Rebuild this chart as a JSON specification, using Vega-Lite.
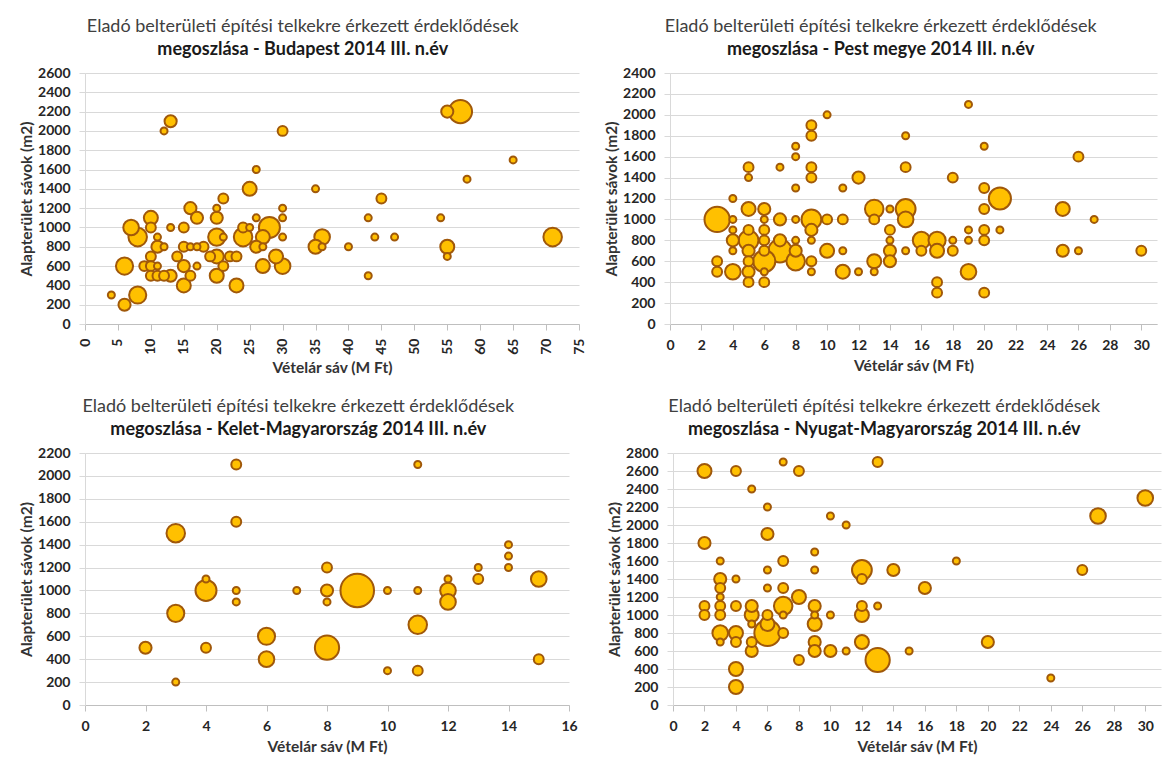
{
  "$schema": "https://vega.github.io/schema/vega-lite/v6.json",
  "background": "white",
  "padding": {"left": 19, "top": 18, "right": 2, "bottom": 2},
  "config": {
    "font": "Lato",
    "view": {"stroke": null},
    "axis": {
      "labelFont": "Lato", "labelFontWeight": "bold", "labelFontSize": 14, "labelColor": "#262626",
      "titleFont": "Lato", "titleFontWeight": "bold", "titleFontSize": 15.5, "titleColor": "#333333",
      "gridColor": "#D9D9D9", "domainColor": "#BFBFBF", "tickColor": "#BFBFBF",
      "tickSize": 6, "labelOverlap": false, "labelFlush": false, "format": "d"
    },
    "axisX": {"grid": false, "labelPadding": 8, "titlePadding": 6},
    "axisY": {"grid": true, "domainColor": "#D9D9D9", "tickColor": "#D9D9D9", "labelPadding": 9, "titlePadding": 3},
    "style": {"rotx": {"labelAngle": 270, "labelAlign": "right", "labelBaseline": "middle"}},
    "title": {"font": "Lato", "fontSize": 18, "fontWeight": "normal", "color": "#404040", "anchor": "middle", "frame": "bounds", "offset": 7,
              "subtitleFont": "Lato", "subtitleFontSize": 18, "subtitleFontWeight": "bold", "subtitleColor": "#1a1a1a", "subtitlePadding": 5},
    "circle": {"fill": "#FFC000", "stroke": "#A0580A", "strokeWidth": 2, "opacity": 1, "fillOpacity": 1}
  },
  "spacing": 22,
  "vconcat": [
    {
      "spacing": 18,
      "hconcat": [
        {
          "title": {"text": "Eladó belterületi építési telkekre érkezett érdeklődések", "subtitle": "megoszlása - Budapest 2014 III. n.év"},
          "width": 494, "height": 251,
          "data": {"values": [
            {"x":4,"y":300,"n":1},{"x":6,"y":200,"n":3},{"x":6,"y":600,"n":6},{"x":8,"y":300,"n":6},
            {"x":7,"y":1000,"n":5},{"x":8,"y":900,"n":7},{"x":9,"y":600,"n":2},{"x":10,"y":1100,"n":4},
            {"x":10,"y":1000,"n":2},{"x":10,"y":700,"n":2},{"x":10,"y":600,"n":2},{"x":10,"y":500,"n":2},
            {"x":11,"y":900,"n":1},{"x":11,"y":800,"n":3},{"x":11,"y":600,"n":1},{"x":11,"y":500,"n":2},
            {"x":12,"y":800,"n":1},{"x":12,"y":500,"n":2},{"x":12,"y":2000,"n":1},{"x":13,"y":2100,"n":3},
            {"x":13,"y":1000,"n":1},{"x":13,"y":500,"n":3},{"x":15,"y":1000,"n":2},{"x":15,"y":800,"n":2},
            {"x":15,"y":600,"n":3},{"x":15,"y":400,"n":4},{"x":14,"y":700,"n":2},{"x":16,"y":1200,"n":3},
            {"x":16,"y":500,"n":2},{"x":16,"y":800,"n":1},{"x":17,"y":1100,"n":3},{"x":17,"y":800,"n":1},
            {"x":17,"y":600,"n":1},{"x":18,"y":800,"n":2},{"x":19,"y":700,"n":2},{"x":20,"y":1200,"n":1},
            {"x":20,"y":1100,"n":3},{"x":20,"y":900,"n":6},{"x":20,"y":700,"n":4},{"x":20,"y":500,"n":4},
            {"x":21,"y":900,"n":1},{"x":21,"y":1300,"n":2},{"x":21,"y":600,"n":2},{"x":22,"y":700,"n":2},
            {"x":23,"y":700,"n":2},{"x":23,"y":400,"n":4},{"x":24,"y":1000,"n":2},{"x":24,"y":900,"n":7},
            {"x":25,"y":1400,"n":4},{"x":25,"y":1000,"n":1},{"x":26,"y":1600,"n":1},{"x":26,"y":1100,"n":1},
            {"x":26,"y":800,"n":3},{"x":27,"y":800,"n":1},{"x":27,"y":900,"n":4},{"x":27,"y":600,"n":4},
            {"x":28,"y":1000,"n":9},{"x":29,"y":700,"n":4},{"x":30,"y":2000,"n":2},{"x":30,"y":1200,"n":1},
            {"x":30,"y":1100,"n":1},{"x":30,"y":900,"n":1},{"x":30,"y":600,"n":5},{"x":35,"y":1400,"n":1},
            {"x":35,"y":800,"n":4},{"x":36,"y":900,"n":5},{"x":36,"y":800,"n":1},{"x":40,"y":800,"n":1},
            {"x":43,"y":1100,"n":1},{"x":43,"y":500,"n":1},{"x":44,"y":900,"n":1},{"x":45,"y":1300,"n":2},
            {"x":47,"y":900,"n":1},{"x":54,"y":1100,"n":1},{"x":55,"y":2200,"n":3},{"x":57,"y":2200,"n":11},
            {"x":55,"y":800,"n":4},{"x":55,"y":700,"n":1},{"x":58,"y":1500,"n":1},{"x":65,"y":1700,"n":1},
            {"x":71,"y":900,"n":7}
          ]},
          "mark": {"type": "circle"},
          "encoding": {
            "x": {"field": "x", "type": "quantitative", "scale": {"domain": [0, 75], "nice": false},
                  "axis": {"style": "rotx", "labelAngle": -90, "labelAlign": "right", "labelBaseline": "middle", "values": [0,5,10,15,20,25,30,35,40,45,50,55,60,65,70,75], "title": "Vételár sáv (M Ft)"}},
            "y": {"field": "y", "type": "quantitative", "scale": {"domain": [0, 2600], "nice": false},
                  "axis": {"values": [0,200,400,600,800,1000,1200,1400,1600,1800,2000,2200,2400,2600], "title": "Alapterület sávok (m2)"}},
            "size": {"field": "n", "type": "quantitative", "scale": {"type": "linear", "domain": [0, 24], "range": [0, 1176]}, "legend": null},
            "order": {"field": "n", "sort": "descending"}
          }
        },
        {
          "title": {"text": "Eladó belterületi építési telkekre érkezett érdeklődések", "subtitle": "megoszlása - Pest megye 2014 III. n.év"},
          "width": 487, "height": 251,
          "data": {"values": [
            {"x":3,"y":1000,"n":13},{"x":3,"y":600,"n":2},{"x":3,"y":500,"n":2},{"x":4,"y":1200,"n":1},
            {"x":4,"y":1000,"n":1},{"x":4,"y":900,"n":1},{"x":4,"y":800,"n":3},{"x":4,"y":700,"n":1},
            {"x":4,"y":500,"n":5},{"x":5,"y":1500,"n":2},{"x":5,"y":1400,"n":1},{"x":5,"y":1100,"n":4},
            {"x":5,"y":900,"n":2},{"x":5,"y":800,"n":8},{"x":5,"y":700,"n":3},{"x":5,"y":600,"n":2},
            {"x":5,"y":500,"n":3},{"x":5,"y":400,"n":2},{"x":6,"y":1100,"n":3},{"x":6,"y":1000,"n":1},
            {"x":6,"y":900,"n":2},{"x":6,"y":800,"n":2},{"x":6,"y":700,"n":2},{"x":6,"y":600,"n":10},
            {"x":6,"y":500,"n":1},{"x":6,"y":400,"n":2},{"x":7,"y":1500,"n":1},{"x":7,"y":1000,"n":3},
            {"x":7,"y":800,"n":3},{"x":7,"y":700,"n":11},{"x":8,"y":1700,"n":1},{"x":8,"y":1600,"n":1},
            {"x":8,"y":1300,"n":1},{"x":8,"y":1000,"n":1},{"x":8,"y":800,"n":1},{"x":8,"y":700,"n":3},
            {"x":8,"y":600,"n":7},{"x":9,"y":1900,"n":2},{"x":9,"y":1800,"n":2},{"x":9,"y":1500,"n":2},
            {"x":9,"y":1400,"n":2},{"x":9,"y":1000,"n":8},{"x":9,"y":900,"n":3},{"x":9,"y":800,"n":1},
            {"x":9,"y":600,"n":2},{"x":9,"y":500,"n":1},{"x":10,"y":2000,"n":1},{"x":10,"y":1000,"n":2},
            {"x":10,"y":700,"n":4},{"x":11,"y":1300,"n":1},{"x":11,"y":1000,"n":2},{"x":11,"y":700,"n":1},
            {"x":11,"y":500,"n":4},{"x":12,"y":1400,"n":3},{"x":12,"y":500,"n":1},{"x":13,"y":1100,"n":7},
            {"x":13,"y":1000,"n":2},{"x":13,"y":600,"n":4},{"x":13,"y":500,"n":1},{"x":14,"y":1100,"n":1},
            {"x":14,"y":900,"n":2},{"x":14,"y":800,"n":1},{"x":14,"y":700,"n":3},{"x":14,"y":600,"n":3},
            {"x":15,"y":1800,"n":1},{"x":15,"y":1500,"n":2},{"x":15,"y":1100,"n":8},{"x":15,"y":1000,"n":5},
            {"x":15,"y":700,"n":1},{"x":16,"y":800,"n":6},{"x":16,"y":700,"n":2},{"x":17,"y":800,"n":6},
            {"x":17,"y":700,"n":4},{"x":17,"y":400,"n":2},{"x":17,"y":300,"n":2},{"x":18,"y":1400,"n":2},
            {"x":18,"y":800,"n":1},{"x":18,"y":700,"n":2},{"x":19,"y":2100,"n":1},{"x":19,"y":900,"n":1},
            {"x":19,"y":800,"n":1},{"x":19,"y":500,"n":5},{"x":20,"y":1700,"n":1},{"x":20,"y":1300,"n":2},
            {"x":20,"y":1100,"n":2},{"x":20,"y":900,"n":2},{"x":20,"y":800,"n":2},{"x":20,"y":300,"n":2},
            {"x":21,"y":1200,"n":10},{"x":21,"y":900,"n":1},{"x":25,"y":1100,"n":4},{"x":25,"y":700,"n":3},
            {"x":26,"y":1600,"n":2},{"x":26,"y":700,"n":1},{"x":27,"y":1000,"n":1},{"x":30,"y":700,"n":2}
          ]},
          "mark": {"type": "circle"},
          "encoding": {
            "x": {"field": "x", "type": "quantitative", "scale": {"domain": [0, 31], "nice": false},
                  "axis": {"values": [0,2,4,6,8,10,12,14,16,18,20,22,24,26,28,30], "title": "Vételár sáv (M Ft)"}},
            "y": {"field": "y", "type": "quantitative", "scale": {"domain": [0, 2400], "nice": false},
                  "axis": {"values": [0,200,400,600,800,1000,1200,1400,1600,1800,2000,2200,2400], "title": "Alapterület sávok (m2)"}},
            "size": {"field": "n", "type": "quantitative", "scale": {"type": "linear", "domain": [0, 24], "range": [0, 1176]}, "legend": null},
            "order": {"field": "n", "sort": "descending"}
          }
        }
      ]
    },
    {
      "spacing": 29,
      "hconcat": [
        {
          "title": {"text": "Eladó belterületi építési telkekre érkezett érdeklődések", "subtitle": "megoszlása - Kelet-Magyarország 2014 III. n.év"},
          "width": 484, "height": 252,
          "data": {"values": [
            {"x":2,"y":500,"n":3},{"x":3,"y":1500,"n":7},{"x":3,"y":800,"n":6},{"x":3,"y":200,"n":1},
            {"x":4,"y":1100,"n":1},{"x":4,"y":1000,"n":9},{"x":4,"y":500,"n":2},{"x":5,"y":2100,"n":2},
            {"x":5,"y":1600,"n":2},{"x":5,"y":1000,"n":1},{"x":5,"y":900,"n":1},{"x":6,"y":600,"n":6},
            {"x":6,"y":400,"n":5},{"x":7,"y":1000,"n":1},{"x":8,"y":1200,"n":2},{"x":8,"y":1000,"n":3},
            {"x":8,"y":900,"n":1},{"x":8,"y":500,"n":12},{"x":9,"y":1000,"n":23},{"x":10,"y":1000,"n":1},
            {"x":10,"y":300,"n":1},{"x":11,"y":2100,"n":1},{"x":11,"y":1000,"n":1},{"x":11,"y":700,"n":7},
            {"x":11,"y":300,"n":2},{"x":12,"y":1100,"n":1},{"x":12,"y":1000,"n":5},{"x":12,"y":900,"n":5},
            {"x":13,"y":1200,"n":1},{"x":13,"y":1100,"n":2},{"x":14,"y":1400,"n":1},{"x":14,"y":1300,"n":1},
            {"x":14,"y":1200,"n":1},{"x":15,"y":1100,"n":5},{"x":15,"y":400,"n":2}
          ]},
          "mark": {"type": "circle"},
          "encoding": {
            "x": {"field": "x", "type": "quantitative", "scale": {"domain": [0, 16], "nice": false},
                  "axis": {"values": [0,2,4,6,8,10,12,14,16], "title": "Vételár sáv (M Ft)"}},
            "y": {"field": "y", "type": "quantitative", "scale": {"domain": [0, 2200], "nice": false},
                  "axis": {"values": [0,200,400,600,800,1000,1200,1400,1600,1800,2000,2200], "title": "Alapterület sávok (m2)"}},
            "size": {"field": "n", "type": "quantitative", "scale": {"type": "linear", "domain": [0, 24], "range": [0, 1176]}, "legend": null},
            "order": {"field": "n", "sort": "descending"}
          }
        },
        {
          "title": {"text": "Eladó belterületi építési telkekre érkezett érdeklődések", "subtitle": "megoszlása - Nyugat-Magyarország 2014 III. n.év"},
          "width": 488, "height": 252,
          "data": {"values": [
            {"x":2,"y":2600,"n":4},{"x":2,"y":1800,"n":3},{"x":2,"y":1100,"n":2},{"x":2,"y":1000,"n":2},
            {"x":3,"y":1600,"n":1},{"x":3,"y":1400,"n":3},{"x":3,"y":1300,"n":2},{"x":3,"y":1200,"n":1},
            {"x":3,"y":1100,"n":2},{"x":3,"y":1000,"n":2},{"x":3,"y":800,"n":5},{"x":3,"y":700,"n":1},
            {"x":4,"y":2600,"n":2},{"x":4,"y":1400,"n":1},{"x":4,"y":1100,"n":2},{"x":4,"y":800,"n":4},
            {"x":4,"y":700,"n":2},{"x":4,"y":400,"n":4},{"x":4,"y":200,"n":4},{"x":5,"y":2400,"n":1},
            {"x":5,"y":1100,"n":3},{"x":5,"y":1000,"n":4},{"x":5,"y":900,"n":1},{"x":5,"y":700,"n":2},
            {"x":5,"y":600,"n":3},{"x":6,"y":2200,"n":1},{"x":6,"y":1900,"n":3},{"x":6,"y":1500,"n":1},
            {"x":6,"y":1300,"n":1},{"x":6,"y":1000,"n":2},{"x":6,"y":900,"n":4},{"x":6,"y":800,"n":14},
            {"x":7,"y":2700,"n":1},{"x":7,"y":1600,"n":2},{"x":7,"y":1300,"n":2},{"x":7,"y":1100,"n":7},
            {"x":7,"y":1000,"n":1},{"x":7,"y":800,"n":2},{"x":8,"y":2600,"n":2},{"x":8,"y":1200,"n":4},
            {"x":8,"y":500,"n":2},{"x":9,"y":1700,"n":1},{"x":9,"y":1500,"n":1},{"x":9,"y":1100,"n":3},
            {"x":9,"y":1000,"n":1},{"x":9,"y":900,"n":4},{"x":9,"y":700,"n":3},{"x":9,"y":600,"n":3},
            {"x":10,"y":2100,"n":1},{"x":10,"y":1000,"n":1},{"x":10,"y":600,"n":3},{"x":11,"y":2000,"n":1},
            {"x":11,"y":600,"n":1},{"x":12,"y":1500,"n":8},{"x":12,"y":1400,"n":2},{"x":12,"y":1100,"n":2},
            {"x":12,"y":1000,"n":4},{"x":12,"y":700,"n":4},{"x":13,"y":2700,"n":2},{"x":13,"y":1100,"n":1},
            {"x":13,"y":500,"n":12},{"x":14,"y":1500,"n":3},{"x":15,"y":600,"n":1},{"x":16,"y":1300,"n":3},
            {"x":18,"y":1600,"n":1},{"x":20,"y":700,"n":3},{"x":24,"y":300,"n":1},{"x":26,"y":1500,"n":2},
            {"x":27,"y":2100,"n":5},{"x":30,"y":2300,"n":5}
          ]},
          "mark": {"type": "circle"},
          "encoding": {
            "x": {"field": "x", "type": "quantitative", "scale": {"domain": [0, 31], "nice": false},
                  "axis": {"values": [0,2,4,6,8,10,12,14,16,18,20,22,24,26,28,30], "title": "Vételár sáv (M Ft)"}},
            "y": {"field": "y", "type": "quantitative", "scale": {"domain": [0, 2800], "nice": false},
                  "axis": {"values": [0,200,400,600,800,1000,1200,1400,1600,1800,2000,2200,2400,2600,2800], "title": "Alapterület sávok (m2)"}},
            "size": {"field": "n", "type": "quantitative", "scale": {"type": "linear", "domain": [0, 24], "range": [0, 1176]}, "legend": null},
            "order": {"field": "n", "sort": "descending"}
          }
        }
      ]
    }
  ]
}
